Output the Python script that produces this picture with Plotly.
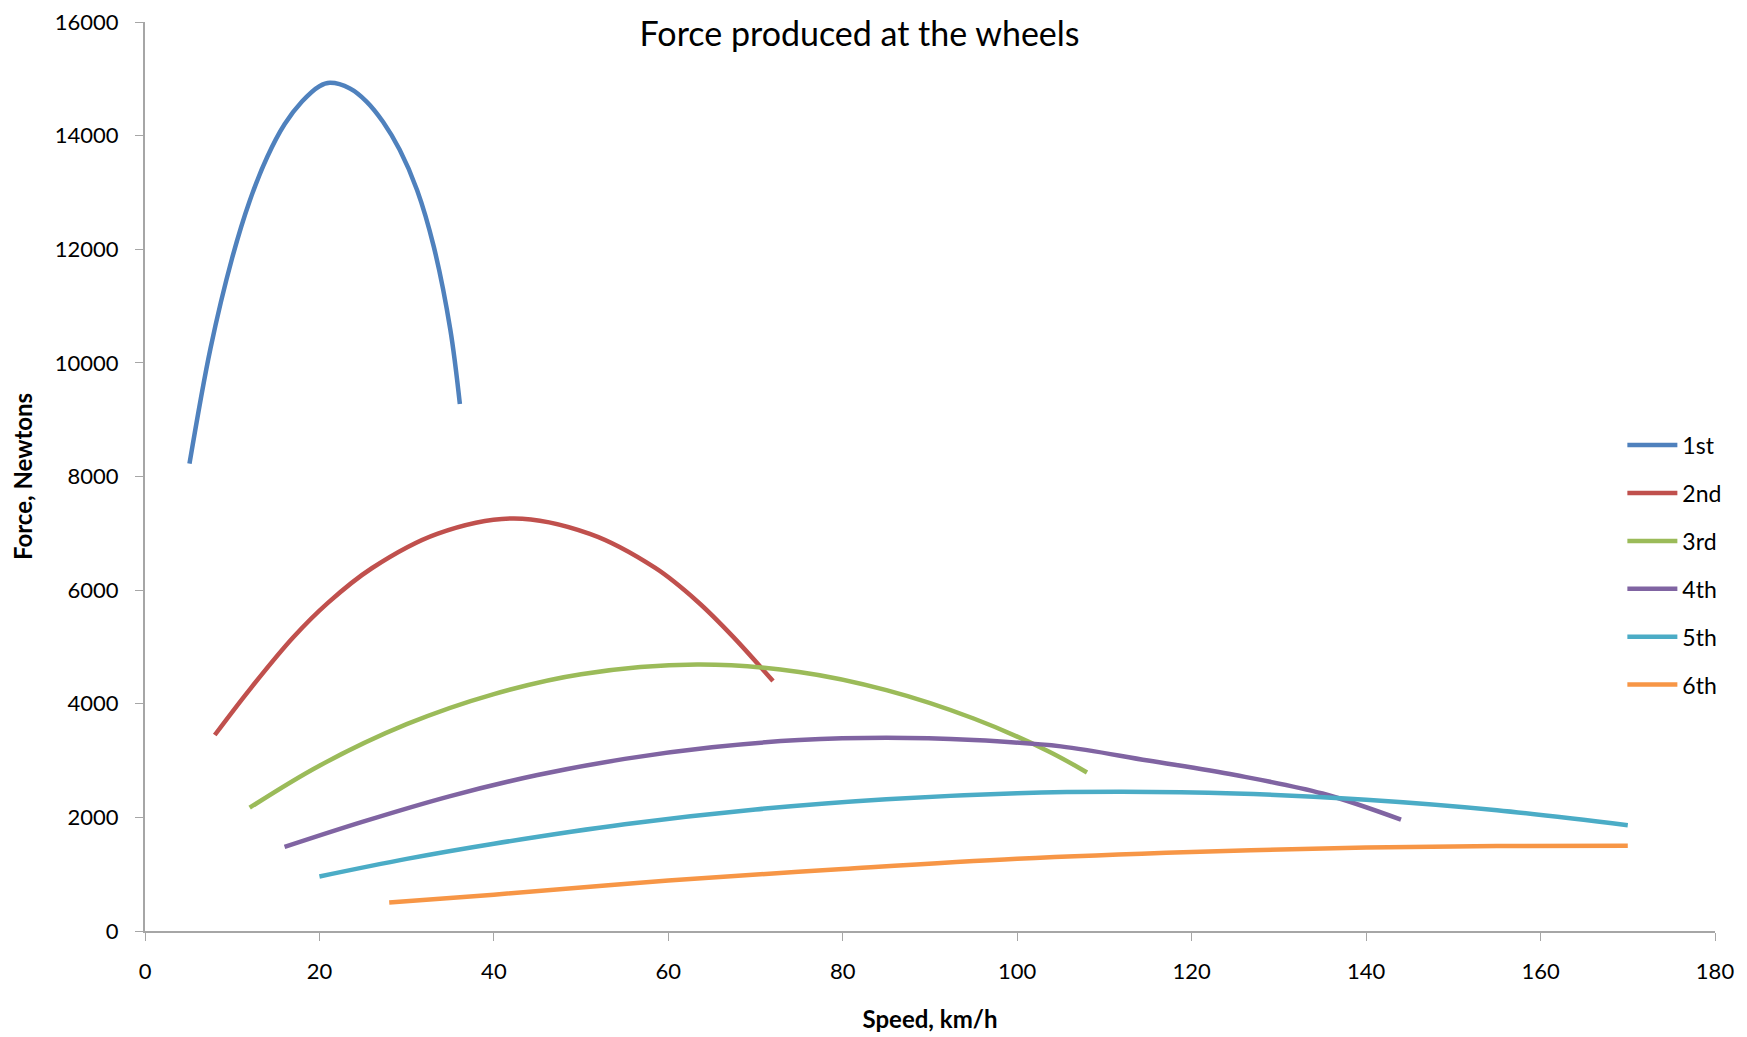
import plotly.graph_objects as go

# 각 기어별 속도(km/h)와 바퀴 구동력(N), 그림에서 읽은 값
gear_names = ["1st", "2nd", "3rd", "4th", "5th", "6th"]

speed_1st = [5.1, 7.5, 10, 12, 14, 16, 18, 20, 21.2, 23.5, 25.4, 27.3, 29.2, 31.2,
             33.1, 35, 36.1]
force_1st = [8225, 10250, 11850, 12850, 13620, 14200, 14600, 14870, 14930, 14830,
             14600, 14240, 13750, 13040, 12050, 10590, 9276]

speed_2nd = [8, 12, 17, 21, 26, 33.5, 42.3, 51, 58.5, 63.3, 67.3, 72]
force_2nd = [3450, 4250, 5170, 5780, 6385, 6990, 7261, 6990, 6390, 5805, 5200, 4400]

speed_3rd = [12, 20, 30, 40, 50, 63.3, 75, 85, 95, 103.5, 108]
force_3rd = [2170, 2910, 3640, 4170, 4520, 4690, 4560, 4240, 3740, 3170, 2790]

speed_4th = [16, 25, 35, 45, 55, 65, 75, 85, 95, 105, 115, 125, 135, 144]
force_4th = [1480, 1925, 2375, 2745, 3030, 3235, 3360, 3400, 3360, 3250, 3000, 2745, 2420, 1960]

speed_5th = [20, 30, 40, 55, 70, 85, 100, 112, 125, 140, 155, 170]
force_5th = [960, 1270, 1537, 1880, 2140, 2320, 2425, 2450, 2420, 2310, 2125, 1860]

speed_6th = [28, 40, 60, 80, 100, 120, 140, 155, 170]
force_6th = [500, 640, 890, 1090, 1270, 1390, 1470, 1495, 1500]

gear_speeds = [speed_1st, speed_2nd, speed_3rd, speed_4th, speed_5th, speed_6th]
gear_forces = [force_1st, force_2nd, force_3rd, force_4th, force_5th, force_6th]

x_ticks = list(range(0, 181, 20))
y_ticks = list(range(0, 16001, 2000))

_GEAR_COLORS = ["#4F81BD", "#C0504D", "#9BBB59", "#8064A2", "#4BACC6", "#F79646"]
_AXIS_GRAY = "#A6A6A6"
_FONT = "Lato, 'Open Sans', sans-serif"

fig = go.Figure()
for name, xs, ys, color in zip(gear_names, gear_speeds, gear_forces, _GEAR_COLORS):
    fig.add_trace(
        go.Scatter(
            x=xs,
            y=ys,
            mode="lines",
            name=name,
            legendgroup=name,
            line={"color": color, "width": 4.5, "shape": "spline", "smoothing": 1.0},
        )
    )

# 페이지 body 의 기본 여백(8px)을 감안해 크기를 줄임
fig.update_layout(
    width=1739,
    height=1029,
    margin={"l": 137, "r": 32, "t": 14, "b": 106},
    plot_bgcolor="white",
    paper_bgcolor="white",
    font={"family": _FONT, "size": 22, "color": "#000000"},
    title={
        "text": "Force produced at the wheels",
        "x": 0.4897,
        "xanchor": "center",
        "y": 0.975,
        "yanchor": "middle",
        "font": {"size": 34},
    },
    showlegend=True,
    legend={
        "x": 0.941,
        "y": 0.4025,
        "xanchor": "left",
        "yanchor": "middle",
        "traceorder": "grouped",
        "tracegroupgap": 15,
        "itemwidth": 50,
        "font": {"size": 23},
        "bgcolor": "rgba(0,0,0,0)",
    },
)

fig.update_xaxes(
    range=[0, 180],
    tickvals=x_ticks,
    ticktext=[str(v) for v in x_ticks],
    ticks="outside",
    ticklen=8,
    tickcolor=_AXIS_GRAY,
    showline=True,
    linecolor=_AXIS_GRAY,
    linewidth=2,
    showgrid=False,
    zeroline=False,
    automargin=False,
    ticklabeloverflow="allow",
    ticklabelstandoff=12,
    title={
        "text": "<b>Speed, km/h</b>",
        "font": {"size": 24},
        "standoff": 28,
    },
)
fig.update_yaxes(
    range=[0, 16000],
    tickvals=y_ticks,
    ticktext=[str(v) for v in y_ticks],
    ticks="outside",
    ticklen=8,
    tickcolor=_AXIS_GRAY,
    showline=True,
    linecolor=_AXIS_GRAY,
    linewidth=2,
    showgrid=False,
    zeroline=False,
    automargin=False,
    ticklabeloverflow="allow",
    ticklabelstandoff=12,
    title={
        "text": "<b>Force, Newtons</b>",
        "font": {"size": 24},
        "standoff": 21,
    },
)

fig.write_html("out.html")
